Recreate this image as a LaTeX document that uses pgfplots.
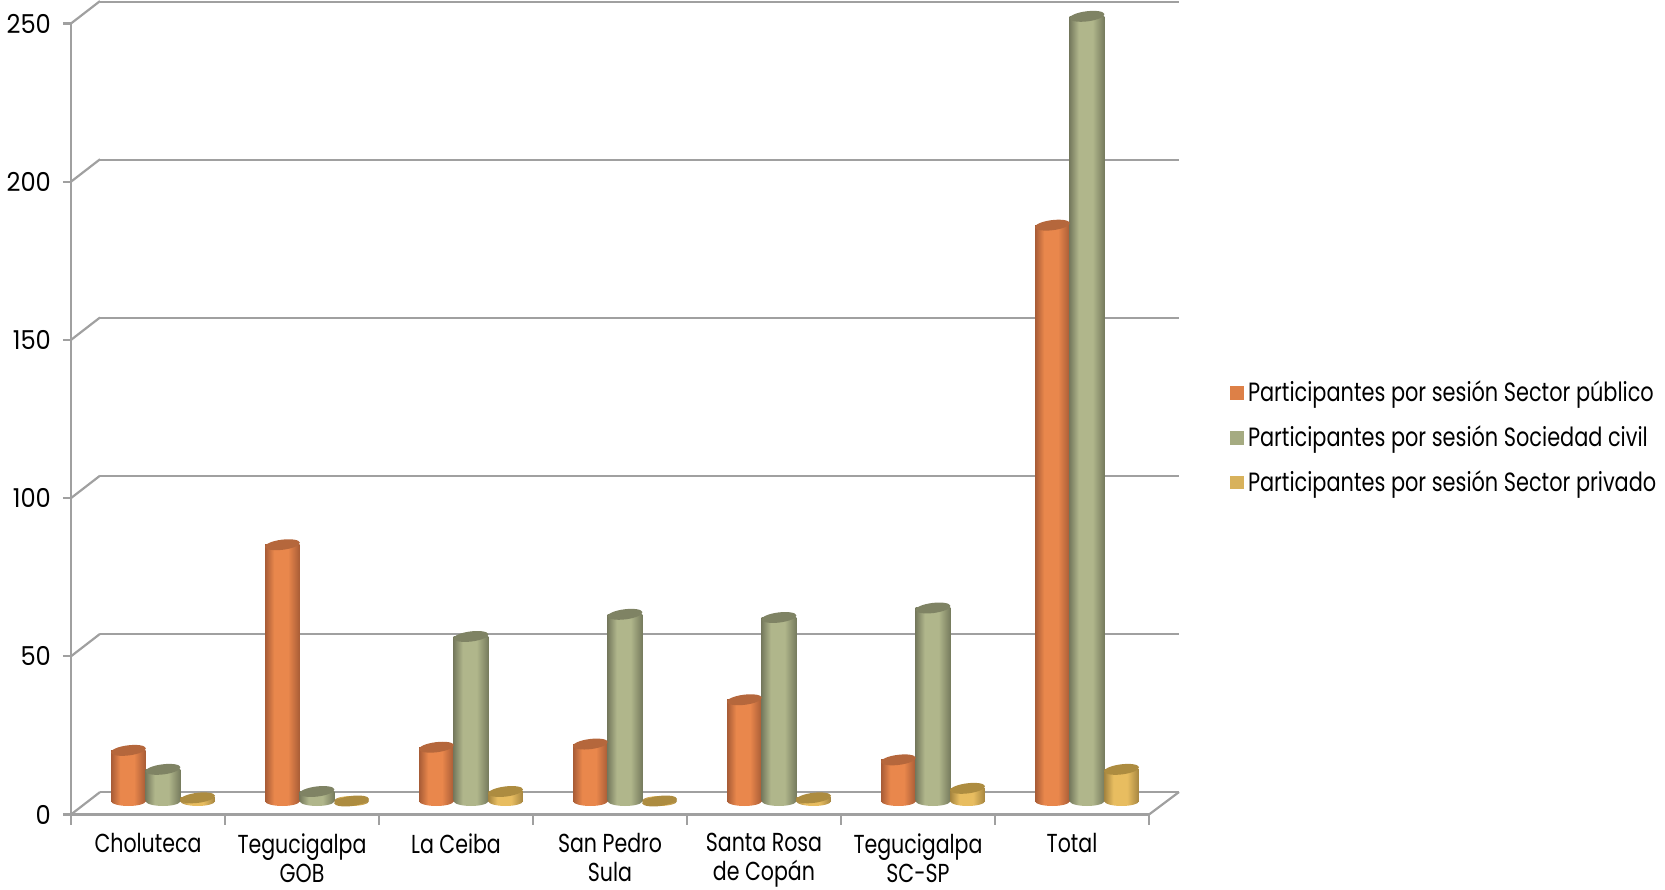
\documentclass[border=0pt]{standalone}
\usepackage{fontspec}
\setmainfont[FakeStretch=0.79]{Poppins}
\newfontfamily\numfont[FakeStretch=0.93]{Poppins}
\usepackage{pgfplots}
\pgfplotsset{compat=1.18}

\definecolor{axisgray}{HTML}{A0A0A0}
\definecolor{oMid}{HTML}{E9874C}
\definecolor{oEdge}{HTML}{A85C36}
\definecolor{oTop}{HTML}{B5673C}
\definecolor{gMid}{HTML}{B0B68B}
\definecolor{gEdge}{HTML}{777B5E}
\definecolor{gTop}{HTML}{7F8364}
\definecolor{yMid}{HTML}{E8BD60}
\definecolor{yEdge}{HTML}{A58540}
\definecolor{yTop}{HTML}{AD8C40}
\definecolor{oLeg}{HTML}{DD8047}
\definecolor{gLeg}{HTML}{A5AB81}
\definecolor{yLeg}{HTML}{D8B25C}

% darker at both sides, flat in the middle
\newcommand\cylshade[1]{%
  \pgfdeclarehorizontalshading{#1shade}{100bp}{
    color(0bp)=(#1Edge); color(25bp)=(#1Edge); color(38bp)=(#1Mid);
    color(58bp)=(#1Mid); color(75bp)=(#1Edge); color(100bp)=(#1Edge)}}
\cylshade{o}\cylshade{g}\cylshade{y}

% cylinder ends, sizes in pt (1 px of the reference = 0.5 pt)
\pgfdeclareplotmark{captop}{%
  \pgfpathellipse{\pgfpointorigin}{\pgfqpoint{8.7pt}{1.1pt}}{\pgfqpoint{-0.4pt}{2.5pt}}%
  \pgfusepathqfill}
\newcommand\basemark[1]{%
  \pgfdeclareplotmark{#1base}{%
    \path[draw=none,shade,shading=#1shade,rotate=7] (0,0) ellipse (8.7pt and 2.5pt);}}
\basemark{o}\basemark{g}\basemark{y}

% one cylinder: series letter, bar shift, x, value
\newcommand\cyl[4]{%
  \addplot[only marks,mark=#1base,mark options={xshift=#2}] coordinates {(#3,0)};
  \addplot[ybar,bar shift=#2,bar width=17.3pt,draw=none,shade,shading=#1shade] coordinates {(#3,#4)};
  \addplot[only marks,mark=captop,mark options={xshift=#2,fill=#1Top,draw=none}] coordinates {(#3,#4)};
}

\begin{document}
\begin{tikzpicture}
\useasboundingbox (0,0) rectangle (832.5pt,444.5pt);

% back wall
\begin{axis}[
  at={(50pt,48.5pt)},anchor=south west,
  scale only axis,width=539.5pt,height=395pt,
  xmin=0,xmax=7,ymin=0,ymax=250,
  axis line style={draw=none},
  xtick=\empty,
  ytick={0,50,...,250},
  yticklabels={},
  tick style={draw=none},
  ymajorgrids,
  grid style={axisgray,line width=1.1pt},
  clip=false,
]
\addplot[draw=none] coordinates {(0,0)};
\end{axis}

% side wall and floor edges
\foreach \yy in {37.25,116.35,195.45,274.55,353.65,432.75}
  \draw[axisgray,line width=1.1pt] (35.5pt,\yy pt) -- (50pt,\yy pt + 11.2pt);
\draw[axisgray,line width=1.1pt] (574.5pt,37.25pt) -- (589.5pt,48.5pt);

% front axis
\begin{axis}[
  at={(35.5pt,37.25pt)},anchor=south west,
  scale only axis,width=539pt,height=395.5pt,
  xmin=0,xmax=7,ymin=0,ymax=250,
  axis x line*=bottom,axis y line*=left,
  axis line style={axisgray,line width=1.1pt,-},
  xtick={0.5,1.5,...,6.5},
  xticklabels={Choluteca,{Tegucigalpa\\GOB},La Ceiba,{San Pedro\\Sula},{Santa Rosa\\de Copán},{Tegucigalpa\\SC-SP},Total},
  minor xtick={0,1,...,7},
  ytick={0,50,...,250},
  major x tick style={draw=none},
  minor tick length=5pt,
  major tick length=4pt,
  tick style={axisgray,line width=1.1pt},
  tick align=outside,
  /pgf/number format/assume math mode=true,
  xticklabel style={font=\fontsize{13}{14.5}\selectfont,text=black,align=center,text depth=0pt,yshift=-2pt},
  yticklabel style={font=\numfont\fontsize{13}{15}\selectfont,text=black,xshift=-2.5pt,yshift=0pt},
  legend cell align=left,
  legend style={
    at={(579.5pt,219pt)},anchor=north west,draw=none,fill=none,
    font=\fontsize{13.2}{14}\selectfont,
    row sep=6.5pt,inner sep=0pt,
    /tikz/every even column/.append style={column sep=4.2pt},
  },
  legend image code/.code={\fill[#1] (0pt,-3.2pt) rectangle (6.4pt,3.2pt);},
]
\addlegendimage{oLeg}\addlegendentry{Participantes por sesión Sector público}
\addlegendimage{gLeg}\addlegendentry{Participantes por sesión Sociedad civil}
\addlegendimage{yLeg}\addlegendentry{Participantes por sesión Sector privado}
\end{axis}

% cylinders
\begin{axis}[
  at={(43pt,44pt)},anchor=south west,
  scale only axis,width=539pt,height=395.5pt,
  xmin=0,xmax=7,ymin=0,ymax=250,
  axis line style={draw=none},
  xtick=\empty,ytick=\empty,
  clip=false,
]
% Sector publico
\cyl{o}{-17.3pt}{0.5}{16}
\cyl{o}{-17.3pt}{1.5}{81}
\cyl{o}{-17.3pt}{2.5}{17}
\cyl{o}{-17.3pt}{3.5}{18}
\cyl{o}{-17.3pt}{4.5}{32}
\cyl{o}{-17.3pt}{5.5}{13}
\cyl{o}{-17.3pt}{6.5}{182}
% Sociedad civil
\cyl{g}{0pt}{0.5}{10}
\cyl{g}{0pt}{1.5}{3}
\cyl{g}{0pt}{2.5}{52}
\cyl{g}{0pt}{3.5}{59}
\cyl{g}{0pt}{4.5}{58}
\cyl{g}{0pt}{5.5}{61}
\cyl{g}{0pt}{6.5}{248}
% Sector privado
\cyl{y}{17.3pt}{0.5}{1}
\cyl{y}{17.3pt}{1.5}{0}
\cyl{y}{17.3pt}{2.5}{3}
\cyl{y}{17.3pt}{3.5}{0}
\cyl{y}{17.3pt}{4.5}{1}
\cyl{y}{17.3pt}{5.5}{4}
\cyl{y}{17.3pt}{6.5}{10}
\end{axis}
\end{tikzpicture}
\end{document}
